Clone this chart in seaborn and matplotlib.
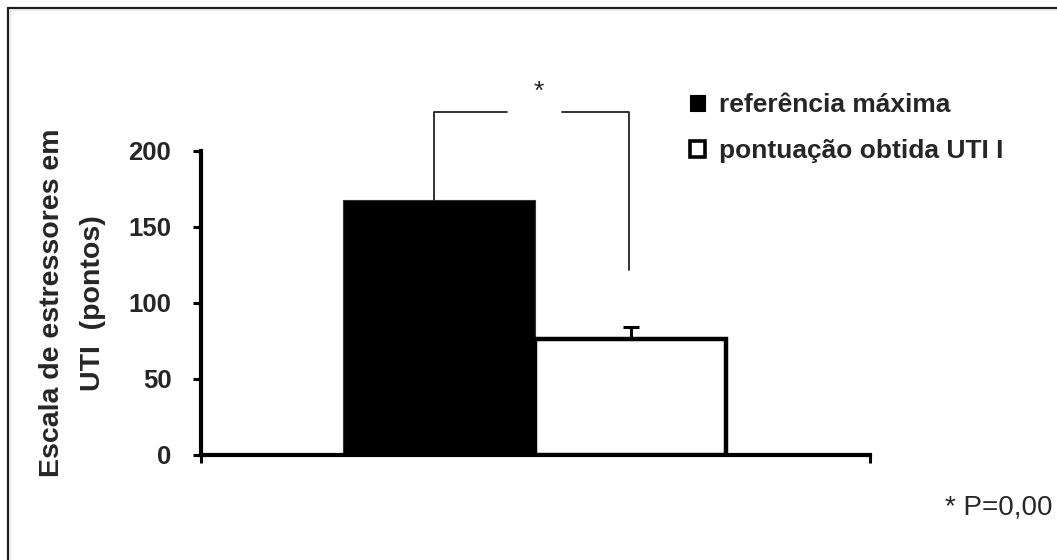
import matplotlib
matplotlib.use("Agg")
import matplotlib.pyplot as plt
from matplotlib.lines import Line2D
from matplotlib.patches import Patch
import seaborn as sns
import pandas as pd

# Stressor-scale scores (ICU environmental stressor scale)
categories = ["referência máxima", "pontuação obtida UTI I"]
scores = [168, 76]
score_sd = [0, 8]
y_ticks = [0, 50, 100, 150, 200]
y_label = "Escala de estressores em\nUTI  (pontos)"
sig_mark = "*"
p_note = "* P=0,00"

sns.set_style("ticks")
plt.rcParams["font.family"] = ["Liberation Sans", "DejaVu Sans"]

W, H = 1057, 560
fig = plt.figure(figsize=(W / 100, H / 100), dpi=100)
fig.patch.set_facecolor("white")


def fx(px):
    return px / W


def fy(py):
    return 1 - py / H


ax = fig.add_axes([fx(200.5), fy(455), fx(870) - fx(200.5), fy(151) - fy(455)])

df = pd.DataFrame({"grupo": categories, "pontos": scores})
sns.barplot(data=df, x="grupo", y="pontos", hue="grupo",
            palette=["black", "white"], width=1.0, dodge=False,
            edgecolor="black", linewidth=1.0, errorbar=None,
            legend=False, ax=ax)

# Heavier outline on the white bar
bars = ax.patches
bars[1].set_linewidth(3.2)
bars[1].set_zorder(3)
bars[0].set_edgecolor("#333333")
bars[0].set_linewidth(0.8)

# Upper error bar on the obtained score only
ax.errorbar(1, scores[1], yerr=[[0], [score_sd[1]]], fmt="none",
            ecolor="black", elinewidth=2.2, capsize=6, capthick=2.2,
            zorder=4, clip_on=False)

ax.set_ylim(0, 200)
ax.set_xlim(-1.245, 2.25)
ax.set_yticks(y_ticks)
ax.set_yticklabels([str(t) for t in y_ticks], fontsize=18.5, fontweight="bold")
ax.set_xticks(list(ax.get_xlim()))
ax.set_xticklabels(["", ""])
ax.tick_params(axis="y", length=6, width=2.2, pad=15, color="black")
ax.tick_params(axis="x", length=6, width=2.2, color="black")
ax.set_xlabel("")
ax.set_ylabel(y_label, fontsize=20.5, fontweight="bold", labelpad=16,
              linespacing=1.75, multialignment="center")

for side in ("top", "right"):
    ax.spines[side].set_visible(False)
for side in ("left", "bottom"):
    ax.spines[side].set_linewidth(3.0)
    ax.spines[side].set_color("black")
    ax.spines[side].set_capstyle("projecting")

# Significance bracket between the two bars
top = 225.5
gap_l, gap_r = 0.355, 0.64
bk = dict(color="#222222", lw=1.3, clip_on=False, zorder=2)
ax.plot([-0.025, -0.025, gap_l], [scores[0], top, top], **bk)
ax.plot([gap_r, 0.99, 0.99], [top, top, 122], **bk)
ax.text(0.52, 239, sig_mark, ha="center", va="center", fontsize=19,
        clip_on=False)

# Legend with square swatches
handles = [Patch(facecolor="black", edgecolor="black", lw=0.8),
           Patch(facecolor="white", edgecolor="black", lw=2.6)]
fig.legend(handles, categories, loc="upper left",
           bbox_to_anchor=(fx(690), fy(93)), frameon=False,
           prop={"family": ["Liberation Sans", "DejaVu Sans"],
                 "weight": "bold", "size": 19},
           handlelength=0.55, handleheight=0.55, handletextpad=0.55,
           labelspacing=0.85, borderpad=0, borderaxespad=0)

fig.text(fx(945), fy(507), p_note, ha="left", va="center", fontsize=20)

# Outer frame (top and left edges)
fig.add_artist(Line2D([fx(7.5), fx(7.5)], [0, fy(7.5)], color="#1e1e1e",
                      lw=1.6, transform=fig.transFigure))
fig.add_artist(Line2D([fx(7.5), 1], [fy(7.5), fy(7.5)], color="#1e1e1e",
                      lw=1.6, transform=fig.transFigure))
fig.add_artist(Line2D([fx(9.8), fx(9.8)], [0, fy(9.8)], color="#e6e6e6",
                      lw=1.2, transform=fig.transFigure))
fig.add_artist(Line2D([fx(9.8), 1], [fy(9.8), fy(9.8)], color="#e6e6e6",
                      lw=1.2, transform=fig.transFigure))

fig.savefig("out.png", dpi=100, facecolor="white")
